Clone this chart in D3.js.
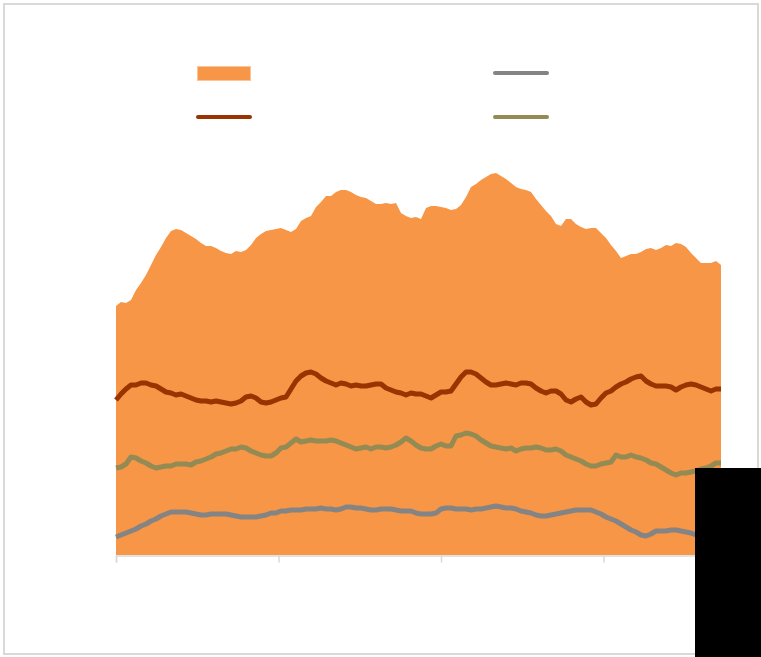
<!DOCTYPE html>
<html>
<head>
<meta charset="utf-8">
<script src="https://d3js.org/d3.v7.min.js"></script>
<style>
  html, body { margin: 0; padding: 0; background: #fff; }
  svg { display: block; font-family: "Liberation Sans", Arial, sans-serif; }
</style>
</head>
<body>
<div id="chart"></div>
<script>
// values, one point per step along the x axis
var total = [
  24.9,25.3,25.2,25.5,26.5,27.2,28.0,29.0,30.0,30.8,
  31.7,32.4,32.6,32.5,32.2,31.9,31.6,31.2,30.9,30.9,
  30.7,30.4,30.2,30.1,30.4,30.3,30.5,31.0,31.7,32.1,
  32.4,32.5,32.6,32.7,32.5,32.3,32.6,33.4,33.7,33.9,
  34.8,35.3,35.9,35.9,36.3,36.5,36.5,36.3,36.0,35.8,
  35.7,35.4,35.1,35.1,35.2,35.1,35.2,34.2,33.9,33.7,
  33.8,33.6,34.7,34.9,34.9,34.8,34.7,34.5,34.6,35.0,
  35.8,36.8,37.1,37.5,37.8,38.1,38.2,37.9,37.6,37.2,
  36.8,36.6,36.5,36.3,35.6,35.0,34.4,33.9,33.1,32.9,
  33.6,33.6,33.1,32.8,32.6,32.7,32.7,32.2,31.7,31.0,
  30.4,29.7,29.9,30.1,30.1,30.3,30.6,30.7,30.5,30.7,
  31.0,30.9,31.2,31.1,30.8,30.2,29.7,29.2,29.2,29.2,
  29.4,29.0
];
var seriesRed = [
  15.5,16.1,16.6,17.0,17.0,17.2,17.2,17.0,16.9,16.6,
  16.3,16.2,16.0,16.1,15.9,15.7,15.5,15.4,15.4,15.3,
  15.4,15.3,15.2,15.1,15.2,15.4,15.8,15.9,15.7,15.3,
  15.2,15.3,15.5,15.7,15.8,16.6,17.4,17.9,18.2,18.3,
  18.1,17.7,17.4,17.2,17.0,17.2,17.1,16.9,17.0,16.9,
  16.9,17.0,17.1,17.1,16.7,16.5,16.3,16.2,16.0,16.2,
  16.1,16.1,15.9,15.7,16.0,16.3,16.3,16.4,17.1,17.8,
  18.3,18.3,18.1,17.7,17.3,17.0,17.0,17.1,17.2,17.1,
  17.0,17.2,17.2,17.1,16.7,16.4,16.2,16.4,16.4,16.1,
  15.5,15.3,15.6,15.8,15.3,15.0,15.1,15.7,16.2,16.4,
  16.8,17.1,17.3,17.6,17.8,17.9,17.4,17.1,16.9,16.9,
  16.9,16.8,16.5,16.8,17.0,17.1,17.0,16.8,16.6,16.4,
  16.6,16.6
];
var seriesOlive = [
  8.7,8.8,9.1,9.8,9.7,9.4,9.2,8.9,8.7,8.8,
  8.9,8.9,9.1,9.1,9.1,9.0,9.3,9.4,9.6,9.8,
  10.1,10.2,10.4,10.6,10.6,10.8,10.7,10.4,10.2,10.0,
  9.9,9.9,10.2,10.7,10.8,11.2,11.6,11.3,11.4,11.5,
  11.4,11.4,11.4,11.5,11.4,11.2,11.0,10.8,10.6,10.7,
  10.8,10.6,10.8,10.8,10.7,10.8,11.0,11.3,11.7,11.4,
  11.0,10.7,10.6,10.6,10.9,11.1,10.9,10.9,11.9,12.0,
  12.2,12.1,11.9,11.5,11.2,10.9,10.8,10.7,10.6,10.7,
  10.4,10.6,10.7,10.7,10.8,10.7,10.5,10.5,10.6,10.4,
  10.0,9.8,9.6,9.4,9.1,8.9,8.9,9.1,9.2,9.3,
  10.0,9.8,9.8,10.0,9.8,9.7,9.5,9.2,9.1,8.8,
  8.5,8.2,8.0,8.2,8.2,8.3,8.4,8.6,8.7,8.9,
  9.2,9.2
];
var seriesGray = [
  1.8,2.0,2.2,2.4,2.6,2.9,3.1,3.4,3.6,3.9,
  4.1,4.3,4.3,4.3,4.3,4.2,4.1,4.0,4.0,4.1,
  4.1,4.1,4.1,4.0,3.9,3.8,3.8,3.8,3.8,3.9,
  4.0,4.2,4.2,4.4,4.4,4.5,4.5,4.5,4.6,4.6,
  4.6,4.7,4.6,4.6,4.5,4.6,4.8,4.8,4.7,4.7,
  4.6,4.5,4.5,4.6,4.6,4.6,4.5,4.4,4.4,4.4,
  4.2,4.1,4.1,4.1,4.2,4.6,4.7,4.7,4.6,4.6,
  4.6,4.5,4.6,4.6,4.7,4.8,4.9,4.8,4.7,4.7,
  4.6,4.4,4.3,4.2,4.0,3.9,3.9,4.0,4.1,4.2,
  4.3,4.4,4.5,4.5,4.5,4.5,4.3,4.1,3.8,3.6,
  3.4,3.1,2.8,2.5,2.3,2.0,1.9,2.1,2.4,2.4,
  2.4,2.5,2.5,2.4,2.3,2.2,2.0,1.9,1.8,1.7,
  1.7,1.7
];
var tickPositions = [0, 32.5, 65, 97.5];

var width = 761, height = 657;
var svg = d3.select("#chart").append("svg")
    .attr("width", width).attr("height", height);

// outer chart border
svg.append("rect")
    .attr("x", 4).attr("y", 4)
    .attr("width", 754).attr("height", 650)
    .attr("fill", "#fff")
    .attr("stroke", "#d9d9d9").attr("stroke-width", 2);

var x = d3.scaleLinear().domain([0, total.length - 1]).range([116, 721]);
var y = d3.scaleLinear().domain([0, 42]).range([555, 135]);

var area = d3.area()
    .x(function (d, i) { return x(i); })
    .y0(y(0))
    .y1(function (d) { return y(d); });

svg.append("path").datum(total)
    .attr("d", area)
    .attr("fill", "#f79646");

var line = d3.line()
    .x(function (d, i) { return x(i); })
    .y(function (d) { return y(d); });

var lines = [
  { values: seriesGray,  color: "#848484" },
  { values: seriesOlive, color: "#948a54" },
  { values: seriesRed,   color: "#993300" }
];
lines.forEach(function (s) {
  svg.append("path").datum(s.values)
      .attr("d", line)
      .attr("fill", "none")
      .attr("stroke", s.color)
      .attr("stroke-width", 5)
      .attr("stroke-linejoin", "round");
});

// x axis, ticks only
var axis = svg.append("g").attr("transform", "translate(0," + 555.5 + ")")
    .call(d3.axisBottom(x).tickValues(tickPositions).tickSize(7).tickFormat(""));
axis.select(".domain").attr("stroke", "#d9d9d9").attr("stroke-width", 1.5);
axis.selectAll(".tick line").attr("stroke", "#d9d9d9").attr("stroke-width", 1.5);

// legend
var legend = svg.append("g");
legend.append("rect")
    .attr("x", 197.5).attr("y", 66.5).attr("width", 53).attr("height", 14)
    .attr("fill", "#f79646").attr("stroke", "#fbc59a").attr("stroke-width", 1);
[
  { x: 198, y: 117, color: "#993300" },
  { x: 495, y: 73,  color: "#848484" },
  { x: 495, y: 117, color: "#948a54" }
].forEach(function (l) {
  legend.append("line")
      .attr("x1", l.x).attr("x2", l.x + 52)
      .attr("y1", l.y).attr("y2", l.y)
      .attr("stroke", l.color).attr("stroke-width", 4)
      .attr("stroke-linecap", "round");
});

// black block covering the lower right corner
svg.append("rect")
    .attr("x", 695).attr("y", 468)
    .attr("width", 66).attr("height", 189)
    .attr("fill", "#000");
</script>
</body>
</html>
